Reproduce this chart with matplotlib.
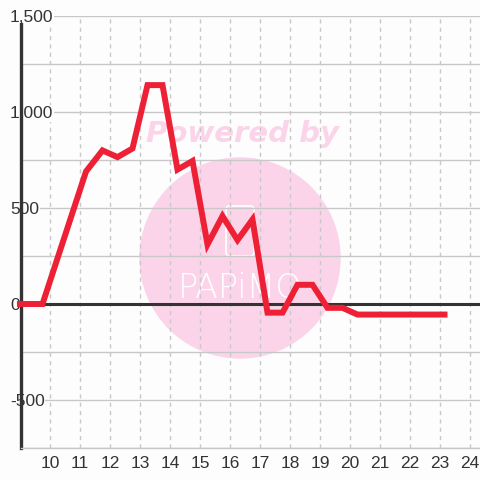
import matplotlib
matplotlib.use('Agg')
import matplotlib.pyplot as plt
from matplotlib.patches import Circle, FancyBboxPatch
import numpy as np

plt.rcParams['font.family'] = ['Liberation Sans', 'DejaVu Sans']

# Данные
x_values = [8.9, 9.75, 11.2, 11.75, 12.25, 12.75, 13.25, 13.75, 14.25, 14.75,
            15.25, 15.75, 16.25, 16.75, 17.25, 17.75, 18.25, 18.75, 19.25, 19.75,
            20.25, 20.75, 21.25, 21.75, 22.25, 22.75, 23.25]
y_values = [0, 0, 690, 800, 765, 810, 1140, 1140, 700, 745,
            310, 458, 333, 440, -45, -45, 100, 100, -20, -20,
            -55, -55, -55, -55, -55, -55, -55]

x_ticks = list(range(10, 25))
y_ticks = [-500, 0, 500, 1000, 1500]
y_tick_labels = ['-500', '0', '500', '1,000', '1,500']
y_minor = [-750, -250, 250, 750, 1250]

bg = '#fcfdfc'
grid_c = '#c8c8c8'
dark = '#333333'
red = '#ee2036'
pink = '#fbd4ea'

fig = plt.figure(figsize=(4.8, 4.8), dpi=100, facecolor=bg)

# водяной знак (под осями)
fig.patches.append(Circle((240 / 480, 1 - 258 / 480), 100 / 480,
                          transform=fig.transFigure, color=pink, zorder=-2))
fig.text(242 / 480, 1 - 134 / 480, 'Powered by', color=pink, fontsize=21,
         fontweight='heavy', style='italic', ha='center', va='center',
         family='DejaVu Sans', zorder=-1)
fig.patches.append(FancyBboxPatch((226 / 480, 1 - 256 / 480), 28 / 480, 50 / 480,
                                  boxstyle='round,pad=0,rounding_size=0.008',
                                  transform=fig.transFigure, fill=False,
                                  ec='white', lw=1.2, zorder=-1))
fig.text(240 / 480, 1 - 289 / 480, 'PAPiMO', color='white', fontsize=24,
         fontweight='light', ha='center', va='center', family='DejaVu Sans',
         zorder=-1)

ax = fig.add_axes([21 / 480, 32 / 480, 459 / 480, 432 / 480])
ax.patch.set_visible(False)
ax.set_xlim(9.0333, 24.3333)
ax.set_ylim(-750, 1500)

# Сетка
ax.set_yticks(y_ticks)
ax.set_yticklabels(y_tick_labels)
ax.set_yticks(y_minor, minor=True)
ax.set_xticks(x_ticks)
ax.grid(axis='y', which='both', color=grid_c, lw=1, zorder=1)
ax.grid(axis='x', which='major', color=grid_c, lw=1, ls=(0, (3, 3)), zorder=1)
ax.set_axisbelow(True)

for s in ['top', 'right']:
    ax.spines[s].set_visible(False)
ax.spines['bottom'].set_color(grid_c)
ax.spines['bottom'].set_linewidth(1)
ax.spines['left'].set_color(dark)
ax.spines['left'].set_linewidth(2.4)
ax.spines['left'].set_bounds(-750, 1460)

ax.tick_params(axis='both', which='both', length=0, labelsize=12.5, labelcolor=dark)
ax.tick_params(axis='y', pad=8)
ax.tick_params(axis='x', pad=6)
for lab in ax.get_yticklabels():
    lab.set_horizontalalignment('left')
    lab.set_bbox(dict(facecolor=bg, edgecolor='none', pad=0.5))

ax.axhline(0, color=dark, lw=2.2, zorder=2)

ax.plot(x_values, y_values, color=red, lw=4.3, solid_joinstyle='miter',
        solid_capstyle='butt', clip_on=False, zorder=3)

fig.savefig('out.png', dpi=100, facecolor=bg)
